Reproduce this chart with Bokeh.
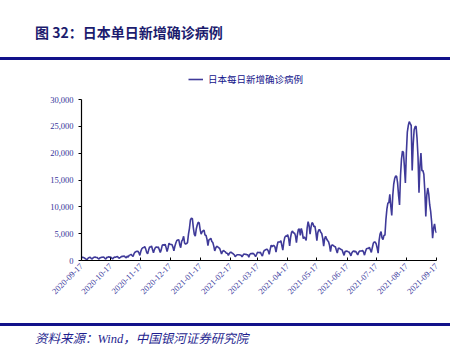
import pandas as pd
from bokeh.plotting import figure
from bokeh.layouts import column
from bokeh.models import (Range1d, FixedTicker, DatetimeTickFormatter, Div,
                          NumeralTickFormatter)
from bokeh.embed import file_html
from bokeh.resources import INLINE

# Daily new confirmed cases in Japan, 2020-09-17 .. 2021-09-17
sep20 = [581, 607, 545, 480, 313, 234, 199, 478, 558, 629, 370, 287, 518, 596]
oct20 = [634, 557, 572, 403, 275, 499, 531, 624, 615, 621, 402, 248, 589, 585, 693, 607,
         660, 427, 306, 508, 636, 620, 694, 736, 511, 438, 567, 722, 770, 771, 865]
nov20 = [613, 486, 820, 640, 958, 1046, 1140, 931, 733, 1273, 1546, 1660, 1702, 1736, 1441,
         950, 1698, 2201, 2388, 2418, 2596, 2168, 1519, 1228, 1942, 2499, 2508, 2684, 2067, 1429]
dec20 = [2029, 2430, 2510, 2436, 2508, 2018, 1504, 2024, 2810, 2973, 2788, 3041, 2400, 1680,
         2374, 3211, 3047, 2992, 2983, 2491, 1807, 2654, 3270, 3740, 3823, 3881, 2947, 2395,
         3599, 3853, 4520]
jan21 = [3250, 3059, 3158, 3325, 4915, 6004, 7570, 7882, 7790, 6094, 4874, 4530, 5867, 6603,
         7133, 7014, 5759, 4925, 5320, 5548, 5651, 4712, 4714, 3990, 2764, 3852, 3962, 4131,
         3538, 3342, 2673]
feb21 = [1792, 2324, 2631, 2576, 2367, 2283, 1784, 1218, 1680, 1874, 1717, 1592, 1352, 1356,
         946, 1308, 1528, 1525, 1340, 1243, 1075, 739, 900, 1072, 1072, 1076, 1041, 993]
mar21 = [667, 968, 1218, 1173, 1149, 1062, 1064, 598, 1126, 1309, 1287, 1321, 1282, 1045, 699,
         1110, 1529, 1502, 1468, 1515, 1114, 814, 1511, 1917, 1961, 2090, 2078, 1785, 1147,
         2062, 2842]
apr21 = [2596, 2763, 2769, 2467, 1566, 2651, 3447, 3451, 3466, 3697, 2779, 1936, 3436, 4313,
         4569, 4532, 4800, 4094, 2705, 4331, 5284, 5498, 5115, 5120, 4604, 3309, 4848, 5789,
         5898, 4681]
may21 = [5985, 5315, 4068, 4390, 4121, 3722, 6054, 7234, 6477, 4905, 6236, 7057, 6873, 6272,
         6413, 5226, 3677, 5227, 5731, 5700, 5246, 5032, 4117, 2676, 4066, 4524, 4011, 3719,
         3486, 2832, 1637]
jun21 = [2782, 2935, 2778, 2618, 2550, 1957, 1387, 2253, 2285, 2166, 2034, 1966, 1417, 944,
         1710, 1703, 1758, 1641, 1585, 1304, 867, 1433, 1669, 1779, 1626, 1712, 1377, 1025,
         1525, 1747]
jul21 = [1784, 1775, 1886, 1542, 1000, 1692, 2189, 2259, 2250, 2449, 1986, 1502, 2384, 3194,
         3427, 3435, 3098, 2330, 1381, 3758, 4942, 5395, 4225, 3885, 4689, 4692, 7626, 9576,
         10699, 10743, 12341]
aug21 = [10156, 8377, 12016, 14207, 15263, 15753, 15699, 14472, 12123, 10343, 15812, 18889,
         20366, 20151, 17489, 14461, 19955, 23917, 25151, 25868, 25492, 25156, 16769, 21547,
         24305, 24939, 24990, 22745, 19297, 12650, 17723]
sep21 = [20031, 16749, 16756, 16084, 12935, 8227, 12127, 13509, 12423, 10398, 9151, 7218,
         4167, 6031, 6809, 5590, 5126]

tick_labels = ["2020-09-17", "2020-10-17", "2020-11-17", "2020-12-17", "2021-01-17",
               "2021-02-17", "2021-03-17", "2021-04-17", "2021-05-17", "2021-06-17",
               "2021-07-17", "2021-08-17", "2021-09-17"]
y_ticks = [0, 5000, 10000, 15000, 20000, 25000, 30000]

series_name = "日本每日新增确诊病例"
title_text = "图 32：日本单日新增确诊病例"
source_text = "资料来源：Wind，中国银河证券研究院"

cases = (sep20 + oct20 + nov20 + dec20 + jan21 + feb21 + mar21 + apr21 + may21 +
         jun21 + jul21 + aug21 + sep21)
dates = pd.date_range("2020-09-17", periods=len(cases), freq="D")

LINE = "#3f3a99"
NAVY = "#12128a"
TICK = "#34349a"
SERIF = "Liberation Serif"
CJK = "Noto Sans CJK SC"

W = 456
# frame: top of 30,000 at y=99 in page, bottom at y=260; extra head room for the legend
Y_TOP = 30000 * (260 - 70) / (260 - 99)

header = Div(width=W, height=60, styles={"margin": "0", "padding": "0"},
             text=(f'<div style="position:relative;width:{W}px;height:60px;">'
                   f'<span style="position:absolute;left:35px;top:22px;white-space:nowrap;'
                   f'font-family:\'{CJK}\';font-weight:bold;font-size:14px;line-height:20px;'
                   f'color:#1c1c6e;">{title_text}</span>'
                   f'<div style="position:absolute;left:0;top:57px;width:450px;height:2.5px;'
                   f'background:{NAVY};"></div></div>'))

p = figure(width=W, height=263, output_backend="svg", toolbar_location=None,
           x_axis_type="datetime",
           x_range=Range1d(dates[0], dates[-1]), y_range=Range1d(0, Y_TOP),
           min_border_left=81, min_border_right=20, min_border_top=10, min_border_bottom=63)
p.outline_line_color = None
p.grid.grid_line_color = None
p.background_fill_color = "white"
p.border_fill_color = "white"

p.line(dates, cases, line_color=LINE, line_width=1.6, legend_label=series_name)

tick_ms = [pd.Timestamp(t).value // 10**6 for t in tick_labels]
p.xaxis.ticker = FixedTicker(ticks=tick_ms)
fmt = "%Y-%m-%d"
p.xaxis.formatter = DatetimeTickFormatter(microseconds=fmt, milliseconds=fmt, seconds=fmt,
                                          minsec=fmt, minutes=fmt, hourmin=fmt, hours=fmt,
                                          days=fmt, months=fmt, years=fmt)
p.xaxis.major_label_orientation = 0.785398
p.yaxis.ticker = FixedTicker(ticks=y_ticks)
p.yaxis.formatter = NumeralTickFormatter(format="0,0")
p.yaxis.bounds = (0, 30000)

for ax in (p.xaxis, p.yaxis):
    ax.axis_line_color = "black"
    ax.axis_line_width = 1.2
    ax.major_tick_line_color = "black"
    ax.minor_tick_line_color = None
    ax.major_label_text_font = SERIF
    ax.major_label_text_font_size = "8.5px"
    ax.major_label_text_color = TICK
p.xaxis.major_tick_in = 3
p.xaxis.major_tick_out = 0
p.xaxis.major_label_standoff = 4
p.yaxis.major_tick_in = 0
p.yaxis.major_tick_out = 3
p.yaxis.major_label_standoff = 5

lg = p.legend[0]
lg.location = (107, 174)
lg.padding = 0
lg.margin = 0
lg.spacing = 0
lg.glyph_width = 15
lg.glyph_height = 12
lg.label_height = 12
lg.label_standoff = 5
lg.border_line_color = None
lg.background_fill_alpha = 0
lg.label_text_font = CJK
lg.label_text_font_size = "9.5px"
lg.label_text_color = NAVY

footer = Div(width=W, height=32, styles={"margin": "0", "padding": "0"},
             text=(f'<div style="position:relative;width:{W}px;height:32px;">'
                   f'<div style="position:absolute;left:0;top:0;width:450px;height:2.5px;'
                   f'background:{NAVY};"></div>'
                   f'<span style="position:absolute;left:35px;top:7px;white-space:nowrap;'
                   f'font-family:\'{SERIF}\',\'{CJK}\';font-style:italic;font-size:12.5px;'
                   f'line-height:18px;color:#1f1f8f;">{source_text}</span></div>'))

layout = column(header, p, footer, spacing=0)
open("out.html", "w").write(file_html(layout, INLINE))
